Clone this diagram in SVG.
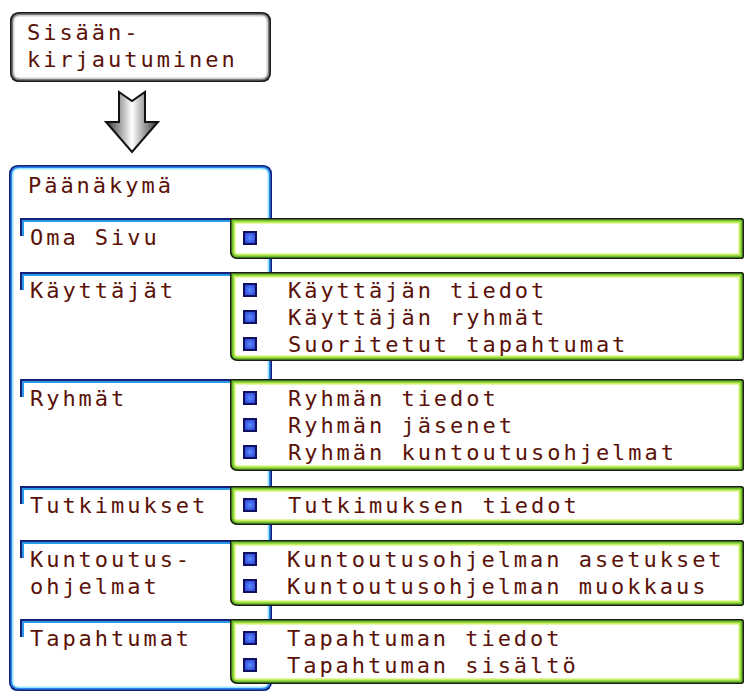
<svg xmlns="http://www.w3.org/2000/svg" xmlns:xlink="http://www.w3.org/1999/xlink" width="746" height="693" viewBox="0 0 746 693">
<style>
.t{font-family:"DejaVu Sans Mono","Liberation Mono",monospace;font-size:22px;letter-spacing:2.96px;fill:#5a1208}
.fw{fill:#fff;stroke:none}
.g1{fill:none;stroke:#c8f060;stroke-width:11}
.g2{fill:none;stroke:#6cc12a;stroke-width:7}
.g3{fill:none;stroke:#1b1b1b;stroke-width:3}
.b1{fill:none;stroke:#9ae6ff;stroke-width:9}
.b2{fill:none;stroke:#2a86e8;stroke-width:6}
.b3{fill:none;stroke:#14207a;stroke-width:3}
.k1{fill:none;stroke:#cfcfcf;stroke-width:9}
.k2{fill:none;stroke:#7a7a7a;stroke-width:6}
.k3{fill:none;stroke:#1a1a1a;stroke-width:3}
.fr1{fill:none;stroke:#14207a;stroke-width:2}
.fr2{fill:none;stroke:#2a9ae8;stroke-width:2}
.bul{fill:url(#bg);stroke:#101060;stroke-width:2}
</style>
<defs>
<radialGradient id="bg" cx="0.5" cy="0.5" r="0.6"><stop offset="0" stop-color="#5a8cff"/><stop offset="1" stop-color="#2a3ed0"/></radialGradient>
<linearGradient id="ag" x1="0" y1="0" x2="1" y2="0"><stop offset="0" stop-color="#333"/><stop offset="0.25" stop-color="#999"/><stop offset="0.5" stop-color="#fff"/><stop offset="0.75" stop-color="#999"/><stop offset="1" stop-color="#333"/></linearGradient>
<path id="sTop" d="M10,22 Q10,12 20,12 H261 Q271,12 271,22 V72 Q271,82 261,82 H20 Q10,82 10,72 Z"/>
<path id="sMain" d="M9,175 Q9,165 19,165 H262 Q272,165 272,175 V681 Q272,691 262,691 H19 Q9,691 9,681 Z"/>
<path id="s1" d="M230,218 H741 Q744,218 744,221 V256 Q744,259 741,259 H238 Q230,259 230,251 Z"/>
<path id="s2" d="M230,272 H741 Q744,272 744,275 V358 Q744,361 741,361 H238 Q230,361 230,353 Z"/>
<path id="s3" d="M230,379 H741 Q744,379 744,382 V468 Q744,471 741,471 H238 Q230,471 230,463 Z"/>
<path id="s4" d="M230,486 H741 Q744,486 744,489 V522 Q744,525 741,525 H238 Q230,525 230,517 Z"/>
<path id="s5" d="M230,540 H741 Q744,540 744,543 V603 Q744,606 741,606 H238 Q230,606 230,598 Z"/>
<path id="s6" d="M230,619 H741 Q744,619 744,622 V681 Q744,684 741,684 H238 Q230,684 230,676 Z"/>
<clipPath id="cTop"><use xlink:href="#sTop"/></clipPath>
<clipPath id="cMain"><use xlink:href="#sMain"/></clipPath>
<clipPath id="c1"><use xlink:href="#s1"/></clipPath>
<clipPath id="c2"><use xlink:href="#s2"/></clipPath>
<clipPath id="c3"><use xlink:href="#s3"/></clipPath>
<clipPath id="c4"><use xlink:href="#s4"/></clipPath>
<clipPath id="c5"><use xlink:href="#s5"/></clipPath>
<clipPath id="c6"><use xlink:href="#s6"/></clipPath>
</defs>

<g id="login">
<g clip-path="url(#cTop)"><use xlink:href="#sTop" class="fw"/><use xlink:href="#sTop" class="k1"/><use xlink:href="#sTop" class="k2"/><use xlink:href="#sTop" class="k3"/></g>
<text class="t" x="27" y="40">Sisään-</text>
<text class="t" x="27" y="67">kirjautuminen</text>
</g>

<g id="connectors">
<path d="M119,92 L132,101 L145,92 V122 H158 L132,152 L106,122 H119 Z" fill="url(#ag)" stroke="#111" stroke-width="2" stroke-linejoin="miter"/>
</g>

<g id="paanakyma">
<g clip-path="url(#cMain)"><use xlink:href="#sMain" class="fw"/><use xlink:href="#sMain" class="b1"/><use xlink:href="#sMain" class="b2"/><use xlink:href="#sMain" class="b3"/></g>
<text class="t" x="28" y="193">Päänäkymä</text>
</g>

<g id="oma-sivu">
<path class="fr1" d="M21,236 V219 H232"/><path class="fr2" d="M23,236 V221 H232"/>
<text class="t" x="30" y="245">Oma Sivu</text>
<g clip-path="url(#c1)"><use xlink:href="#s1" class="fw"/><use xlink:href="#s1" class="g1"/><use xlink:href="#s1" class="g2"/><use xlink:href="#s1" class="g3"/></g>
<rect class="bul" x="244" y="232" width="12" height="12"/>
</g>

<g id="kayttajat">
<path class="fr1" d="M21,290 V273 H232"/><path class="fr2" d="M23,290 V275 H232"/>
<text class="t" x="30" y="298">Käyttäjät</text>
<g clip-path="url(#c2)"><use xlink:href="#s2" class="fw"/><use xlink:href="#s2" class="g1"/><use xlink:href="#s2" class="g2"/><use xlink:href="#s2" class="g3"/></g>
<rect class="bul" x="244" y="284" width="12" height="12"/>
<rect class="bul" x="244" y="311" width="12" height="12"/>
<rect class="bul" x="244" y="338" width="12" height="12"/>
<text class="t" x="288" y="298">Käyttäjän tiedot</text>
<text class="t" x="288" y="325">Käyttäjän ryhmät</text>
<text class="t" x="288" y="352">Suoritetut tapahtumat</text>
</g>

<g id="ryhmat">
<path class="fr1" d="M21,397 V380 H232"/><path class="fr2" d="M23,397 V382 H232"/>
<text class="t" x="30" y="406">Ryhmät</text>
<g clip-path="url(#c3)"><use xlink:href="#s3" class="fw"/><use xlink:href="#s3" class="g1"/><use xlink:href="#s3" class="g2"/><use xlink:href="#s3" class="g3"/></g>
<rect class="bul" x="244" y="392" width="12" height="12"/>
<rect class="bul" x="244" y="419" width="12" height="12"/>
<rect class="bul" x="244" y="446" width="12" height="12"/>
<text class="t" x="288" y="406">Ryhmän tiedot</text>
<text class="t" x="288" y="433">Ryhmän jäsenet</text>
<text class="t" x="288" y="460">Ryhmän kuntoutusohjelmat</text>
</g>

<g id="tutkimukset">
<path class="fr1" d="M21,504 V487 H232"/><path class="fr2" d="M23,504 V489 H232"/>
<text class="t" x="30" y="513">Tutkimukset</text>
<g clip-path="url(#c4)"><use xlink:href="#s4" class="fw"/><use xlink:href="#s4" class="g1"/><use xlink:href="#s4" class="g2"/><use xlink:href="#s4" class="g3"/></g>
<rect class="bul" x="244" y="499" width="12" height="12"/>
<text class="t" x="288" y="513">Tutkimuksen tiedot</text>
</g>

<g id="kuntoutusohjelmat">
<path class="fr1" d="M21,558 V541 H232"/><path class="fr2" d="M23,558 V543 H232"/>
<text class="t" x="30" y="567">Kuntoutus-</text>
<text class="t" x="30" y="594">ohjelmat</text>
<g clip-path="url(#c5)"><use xlink:href="#s5" class="fw"/><use xlink:href="#s5" class="g1"/><use xlink:href="#s5" class="g2"/><use xlink:href="#s5" class="g3"/></g>
<rect class="bul" x="244" y="553" width="12" height="12"/>
<rect class="bul" x="244" y="580" width="12" height="12"/>
<text class="t" x="287" y="567">Kuntoutusohjelman asetukset</text>
<text class="t" x="287" y="594">Kuntoutusohjelman muokkaus</text>
</g>

<g id="tapahtumat">
<path class="fr1" d="M21,637 V620 H232"/><path class="fr2" d="M23,637 V622 H232"/>
<text class="t" x="30" y="646">Tapahtumat</text>
<g clip-path="url(#c6)"><use xlink:href="#s6" class="fw"/><use xlink:href="#s6" class="g1"/><use xlink:href="#s6" class="g2"/><use xlink:href="#s6" class="g3"/></g>
<rect class="bul" x="244" y="632" width="12" height="12"/>
<rect class="bul" x="244" y="659" width="12" height="12"/>
<text class="t" x="287" y="646">Tapahtuman tiedot</text>
<text class="t" x="287" y="673">Tapahtuman sisältö</text>
</g>
</svg>
